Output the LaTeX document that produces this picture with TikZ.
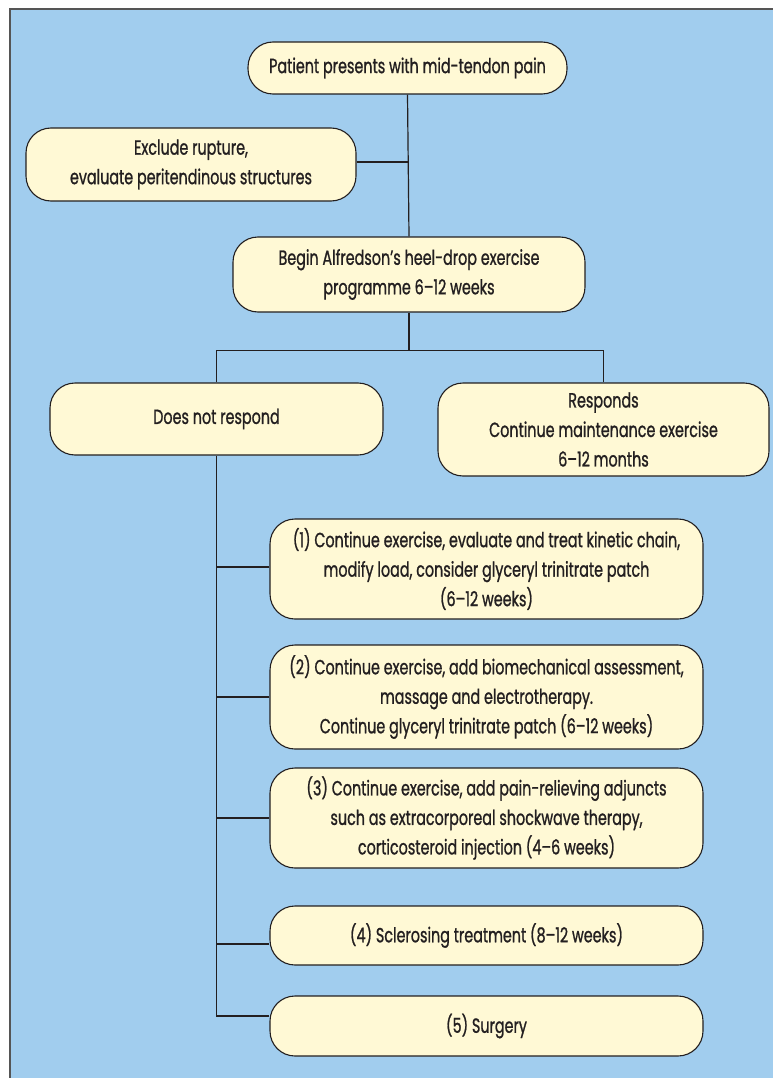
\documentclass[tikz,border=0pt]{standalone}
\usepackage{fontspec}
\setmainfont{Poppins}[FakeStretch=0.70, FakeBold=1.0]
\usetikzlibrary{calc}
\definecolor{bgblue}{RGB}{161,205,238}
\definecolor{boxfill}{RGB}{255,249,213}
\definecolor{framegray}{RGB}{85,85,85}
\definecolor{inkdark}{RGB}{35,31,32}
\tikzset{
  pbox/.style={draw=inkdark, line width=1.1pt, fill=boxfill, rounded corners=25pt,
    align=center, inner sep=0pt, text=inkdark,
    font=\fontsize{20.5}{29.5}\selectfont},
  conn/.style={draw=inkdark, line width=1.2pt}
}
\begin{document}
\begin{tikzpicture}[x=1pt,y=-1pt]
\useasboundingbox (0,0) rectangle (773,1078);
\fill[bgblue] (10,9) rectangle (780,1085);
\draw[framegray, line width=1.5pt] (10,1085) -- (10,9) -- (780,9);

\node[pbox, minimum width=319pt, minimum height=52pt] (top) at (407.5,68) {Patient presents with mid-tendon pain};
\node[pbox, minimum width=330pt, minimum height=73pt] (excl) at (191,164.5) {Exclude rupture,\\evaluate peritendinous structures};
\node[pbox, minimum width=352pt, minimum height=75pt] (begin) at (409,274.5) {Begin Alfredson’s heel-drop exercise\\programme 6–12 weeks};
\node[pbox, minimum width=333pt, minimum height=72pt] (dnr) at (216.5,419) {Does not respond};
\node[pbox, minimum width=331pt, minimum height=93pt] (resp) at (603.5,429.5) {Responds\\Continue maintenance exercise\\6–12 months};
\node[pbox, minimum width=433pt, minimum height=100pt] (n1) at (486.5,569) {(1) Continue exercise, evaluate and treat kinetic chain,\\modify load, consider glyceryl trinitrate patch\\(6–12 weeks)};
\node[pbox, minimum width=433pt, minimum height=104pt] (n2) at (486.5,697) {(2) Continue exercise, add biomechanical assessment,\\massage and electrotherapy.\\Continue glyceryl trinitrate patch (6–12 weeks)};
\node[pbox, minimum width=433pt, minimum height=100pt] (n3) at (486.5,818) {(3) Continue exercise, add pain-relieving adjuncts\\such as extracorporeal shockwave therapy,\\corticosteroid injection (4–6 weeks)};
\node[pbox, minimum width=433pt, minimum height=59pt] (n4) at (486.5,935.5) {(4) Sclerosing treatment (8–12 weeks)};
\node[pbox, minimum width=433pt, minimum height=60pt] (n5) at (486.5,1026) {(5) Surgery};

\draw[conn] (top.south) -- (begin.north);
\draw[conn] ([yshift=2.5pt]excl.east) -- ([yshift=2.5pt]excl.east -| top.south);
\coordinate (split) at ($(begin.south)+(0,38)$);
\draw[conn] (begin.south) -- (split);
\draw[conn] (dnr.north) |- (split) -| (resp.north);
\draw[conn] (dnr.south) |- ([yshift=10pt]n5.west);
\draw[conn] ([yshift=2pt]dnr.south |- n1.west) -- ([yshift=2pt]n1.west);
\draw[conn] (dnr.south |- n2.west) -- (n2.west);
\draw[conn] (dnr.south |- n3.west) -- (n3.west);
\draw[conn] ([yshift=-8.5pt]dnr.south |- n4.west) -- ([yshift=-8.5pt]n4.west);
\end{tikzpicture}
\end{document}
